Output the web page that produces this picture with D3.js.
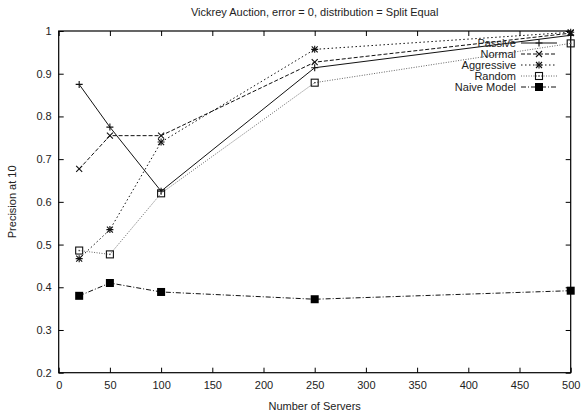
<!DOCTYPE html>
<html><head><meta charset="utf-8">
<script src="https://cdn.jsdelivr.net/npm/d3@7"></script>
<style>body{margin:0;background:#fff}svg{display:block}text{font-family:"Liberation Sans",Arial,sans-serif;fill:#222}</style>
</head><body>
<svg id="c" width="588" height="411"></svg>
<script>
const servers = [20, 50, 100, 250, 500];
const passive = [0.875, 0.775, 0.625, 0.914, 0.990];
const normal = [0.677, 0.755, 0.755, 0.927, 0.995];
const aggressive = [0.467, 0.535, 0.740, 0.957, 0.997];
const random = [0.486, 0.477, 0.620, 0.879, 0.971];
const naive = [0.380, 0.410, 0.389, 0.372, 0.392];
const seriesNames = ["Passive", "Normal", "Aggressive", "Random", "Naive Model"];
const xTicks = [0, 50, 100, 150, 200, 250, 300, 350, 400, 450, 500];
const yTicks = [0.2, 0.3, 0.4, 0.5, 0.6, 0.7, 0.8, 0.9, 1];
const title = "Vickrey Auction, error = 0, distribution = Split Equal";
const xLabel = "Number of Servers";
const yLabel = "Precision at 10";

const L = 58.7, R = 570.7, T = 31, B = 372.7;
const svg = d3.select("#c");
const x = d3.scaleLinear().domain([0, 500]).range([L, R]);
const y = d3.scaleLinear().domain([0.2, 1]).range([B, T]);

const styles = [
  {vals: passive, dash: null, color: "#111", marker: "plus"},
  {vals: normal, dash: "4,2", color: "#111", marker: "cross"},
  {vals: aggressive, dash: "1.5,2.5", color: "#111", marker: "star"},
  {vals: random, dash: "1,1.5", color: "#666", marker: "box"},
  {vals: naive, dash: "5,2,1,2", color: "#111", marker: "fbox"}
];

// frame
svg.append("rect").attr("x", L).attr("y", T).attr("width", R - L).attr("height", B - T)
  .attr("fill", "none").attr("stroke", "#000").attr("stroke-width", 1.2);

// axes with inward ticks
const xb = svg.append("g").attr("transform", `translate(0,${B})`)
  .call(d3.axisBottom(x).tickValues(xTicks).tickSize(-5).tickPadding(9).tickFormat(d3.format("d")));
const xt = svg.append("g").attr("transform", `translate(0,${T})`)
  .call(d3.axisTop(x).tickValues(xTicks).tickSize(-5).tickFormat(""));
const yl = svg.append("g").attr("transform", `translate(${L},0)`)
  .call(d3.axisLeft(y).tickValues(yTicks).tickSize(-5).tickPadding(7).tickFormat(d => d === 1 ? "1" : d3.format(".1f")(d)));
const yr = svg.append("g").attr("transform", `translate(${R},0)`)
  .call(d3.axisRight(y).tickValues(yTicks).tickSize(-5).tickFormat(""));
[xb, xt, yl, yr].forEach(g => {
  g.select(".domain").remove();
  g.selectAll("line").attr("stroke", "#000").attr("stroke-width", 1);
  g.selectAll("text").attr("font-size", 11).attr("fill", "#222")
    .style("font-family", '"Liberation Sans",Arial,sans-serif');
});

// titles
svg.append("text").attr("x", (L + R) / 2).attr("y", 16).attr("text-anchor", "middle")
  .attr("font-size", 11).text(title);
svg.append("text").attr("x", (L + R) / 2).attr("y", 410).attr("text-anchor", "middle")
  .attr("font-size", 11).text(xLabel);
svg.append("text").attr("transform", `translate(16,${(T + B) / 2}) rotate(-90)`)
  .attr("text-anchor", "middle").attr("font-size", 11).text(yLabel);

function drawMarker(g, type, cx, cy, color) {
  const s = 3.5;
  if (type === "plus" || type === "star") {
    g.append("path").attr("d", `M${cx - s},${cy}H${cx + s}M${cx},${cy - s}V${cy + s}`)
      .attr("stroke", color).attr("stroke-width", 1.1).attr("fill", "none");
  }
  if (type === "cross" || type === "star") {
    const c = 3;
    g.append("path").attr("d", `M${cx - c},${cy - c}L${cx + c},${cy + c}M${cx - c},${cy + c}L${cx + c},${cy - c}`)
      .attr("stroke", color).attr("stroke-width", 1.1).attr("fill", "none");
  }
  if (type === "box") {
    g.append("rect").attr("x", cx - 3.5).attr("y", cy - 3.5).attr("width", 7).attr("height", 7)
      .attr("fill", "none").attr("stroke", "#111").attr("stroke-width", 1.1);
    g.append("rect").attr("x", cx - 0.7).attr("y", cy - 0.7).attr("width", 1.4).attr("height", 1.4).attr("fill", "#555");
  }
  if (type === "fbox") {
    g.append("rect").attr("x", cx - 4).attr("y", cy - 4).attr("width", 8).attr("height", 8).attr("fill", "#000");
  }
}

const line = d3.line().x(d => x(d[0])).y(d => y(d[1]));
styles.forEach((s, i) => {
  const pts = servers.map((v, j) => [v, s.vals[j]]);
  svg.append("path").datum(pts).attr("d", line).attr("fill", "none")
    .attr("stroke", s.color).attr("stroke-width", 1)
    .attr("stroke-dasharray", s.dash);
  const g = svg.append("g");
  pts.forEach(p => drawMarker(g, s.marker, x(p[0]), y(p[1]), "#111"));
});

// legend
const legX = 516, legY0 = 43, legDy = 11;
styles.forEach((s, i) => {
  const yy = legY0 + i * legDy;
  svg.append("rect").attr("x", legX - 64).attr("y", yy - 5).attr("width", 0).attr("height", 0);
  svg.append("text").attr("x", legX).attr("y", yy + 4).attr("text-anchor", "end")
    .attr("font-size", 11).text(seriesNames[i]);
  svg.append("line").attr("x1", 521).attr("x2", 557).attr("y1", yy).attr("y2", yy)
    .attr("stroke", s.color).attr("stroke-width", 1).attr("stroke-dasharray", s.dash);
  drawMarker(svg.append("g"), s.marker, 539, yy, "#111");
});
</script>
</body></html>
